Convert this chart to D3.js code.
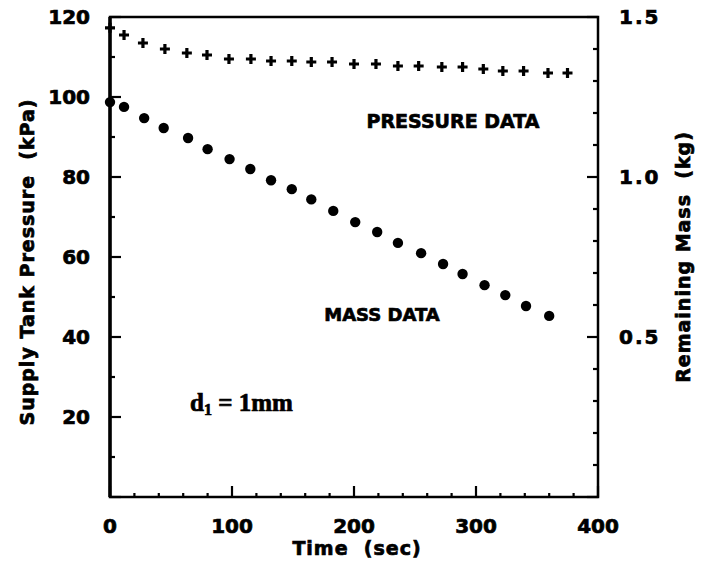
<!DOCTYPE html>
<html><head><meta charset="utf-8">
<script src="https://cdn.jsdelivr.net/npm/d3@7"></script>
<style>
body{margin:0;background:#fff;}
text{font-family:"DejaVu Sans",sans-serif;font-weight:bold;fill:#000;stroke:#000;stroke-width:0.7px;}
</style></head><body>
<svg id="c" width="711" height="568"></svg>
<script>
// Data
const timeSec = [0, 11.5, 27, 45, 63, 79.5, 97.5, 115.5, 132, 149, 165, 182, 200, 218, 236, 253, 272, 289, 306, 322, 339, 359, 375];
const pressureKPa = [117.3, 115.5, 113.5, 112, 111, 110.5, 109.5, 109.5, 109, 109, 108.75, 108.75, 108.25, 108.25, 107.75, 107.75, 107.5, 107.5, 107, 106.5, 106.5, 106, 106];
const massTime = [0, 11.5, 28, 44, 64, 80, 98, 115, 132, 149, 165, 183, 201, 219, 236, 255, 273, 289, 307, 324, 341, 360];
const massKg = [1.234, 1.219, 1.184, 1.153, 1.122, 1.087, 1.056, 1.025, 0.99, 0.962, 0.93, 0.894, 0.859, 0.828, 0.794, 0.762, 0.728, 0.697, 0.662, 0.631, 0.597, 0.566];
const xTickLabels = [0, 100, 200, 300, 400];
const yLeftTickLabels = [20, 40, 60, 80, 100, 120];
const yRightTickLabels = [0.5, 1.0, 1.5];

const svg = d3.select("#c");
const L = 110, R = 598, T = 17, B = 497;
const x = d3.scaleLinear().domain([0, 400]).range([L, R]);
const yL = d3.scaleLinear().domain([0, 120]).range([B, T]);
const yR = d3.scaleLinear().domain([0, 1.5]).range([B, T]);

// frame
svg.append("rect").attr("x", L).attr("y", T).attr("width", R - L).attr("height", B - T)
  .attr("fill", "none").attr("stroke", "#000").attr("stroke-width", 2.5);
svg.append("line").attr("x1", L).attr("x2", L).attr("y1", T).attr("y2", B).attr("stroke", "#000").attr("stroke-width", 3.5);

// bottom axis ticks (inward)
const xt = d3.range(0, 401, 20);
svg.append("g").selectAll("line").data(xt).join("line")
  .attr("x1", d => x(d)).attr("x2", d => x(d))
  .attr("y1", B).attr("y2", d => B - (d % 100 === 0 ? 11 : 4))
  .attr("stroke", "#000").attr("stroke-width", 2.2);
// left ticks
const ylt = d3.range(0, 121, 10);
svg.append("g").selectAll("line").data(ylt).join("line")
  .attr("y1", d => yL(d)).attr("y2", d => yL(d))
  .attr("x1", L).attr("x2", d => L + (d % 20 === 0 ? 11 : 5))
  .attr("stroke", "#000").attr("stroke-width", 2.2);
// right ticks
const yrt = d3.range(0, 16, 1).map(d => d / 10);
svg.append("g").selectAll("line").data(yrt).join("line")
  .attr("y1", d => yR(d)).attr("y2", d => yR(d))
  .attr("x1", R).attr("x2", d => R - (Math.round(d * 10) % 5 === 0 ? 11 : 5))
  .attr("stroke", "#000").attr("stroke-width", 2.2);

// tick labels
svg.append("g").selectAll("text").data(xTickLabels).join("text")
  .attr("x", d => x(d)).attr("y", 533).attr("text-anchor", "middle")
  .attr("font-size", 20).text(d => d);
svg.append("g").selectAll("text").data(yLeftTickLabels).join("text")
  .attr("x", 90).attr("y", d => yL(d) + 7).attr("text-anchor", "end")
  .attr("font-size", 20).text(d => d);
svg.append("g").selectAll("text").data(yRightTickLabels).join("text")
  .attr("x", 619).attr("y", d => yR(d) + 7).attr("text-anchor", "start")
  .attr("font-size", 20).attr("letter-spacing", 2).text(d => d.toFixed(1));

// axis titles
svg.append("text").attr("transform", "translate(34,262) rotate(-90)")
  .attr("text-anchor", "middle").attr("font-size", 19).attr("letter-spacing", 1).attr("xml:space", "preserve")
  .text("Supply Tank Pressure  (kPa)");
svg.append("text").attr("transform", "translate(690,257) rotate(-90)")
  .attr("text-anchor", "middle").attr("font-size", 19).attr("letter-spacing", 1).attr("xml:space", "preserve")
  .text("Remaining Mass  (kg)");
svg.append("text").attr("x", 357).attr("y", 555)
  .attr("text-anchor", "middle").attr("font-size", 19).attr("letter-spacing", 1).attr("xml:space", "preserve")
  .text("Time  (sec)");

// annotations
svg.append("text").attr("x", 453).attr("y", 128).attr("text-anchor", "middle")
  .attr("font-size", 19).text("PRESSURE DATA");
svg.append("text").attr("x", 382).attr("y", 321).attr("text-anchor", "middle")
  .attr("font-size", 18).text("MASS DATA");
const dt = svg.append("text").attr("x", 190).attr("y", 411)
  .style("font-family", "'Liberation Serif',serif").attr("font-size", 25);
dt.append("tspan").text("d");
dt.append("tspan").attr("dy", 4).attr("font-size", 16).text("1");
dt.append("tspan").attr("dy", -4).text(" = 1mm");

// pressure markers (+)
const ptsP = timeSec.map((t, i) => [t, pressureKPa[i]]);
svg.append("g").selectAll("path").data(ptsP).join("path")
  .attr("transform", d => `translate(${x(d[0])},${yL(d[1])})`)
  .attr("d", "M-5,0H5M0,-5V5")
  .attr("stroke", "#000").attr("stroke-width", 3.2);

// mass markers (dots)
const ptsM = massTime.map((t, i) => [t, massKg[i]]);
svg.append("g").selectAll("circle").data(ptsM).join("circle")
  .attr("cx", d => x(d[0])).attr("cy", d => yR(d[1])).attr("r", 5.2).attr("fill", "#000");
</script>
</body></html>
